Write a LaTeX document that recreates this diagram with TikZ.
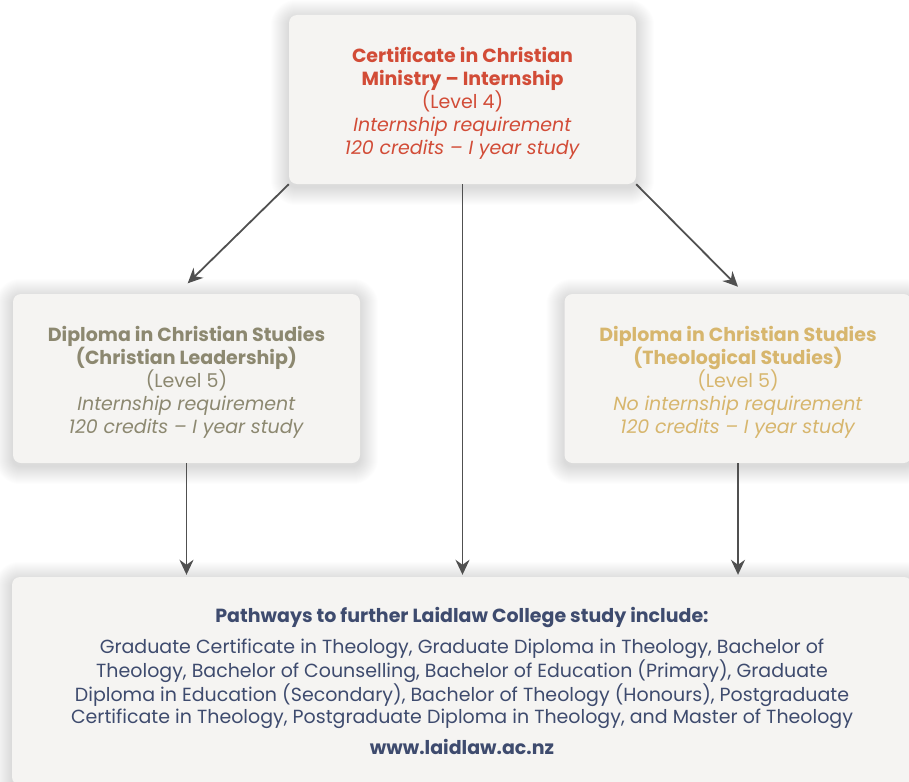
\documentclass[tikz,border=0pt]{standalone}
\usepackage{fontspec}
\setmainfont{Poppins}
\usetikzlibrary{arrows.meta,calc,backgrounds}
\definecolor{boxfill}{HTML}{F5F4F2}
\definecolor{topred}{HTML}{D24C37}
\definecolor{leftgray}{HTML}{8C8870}
\definecolor{rightgold}{HTML}{D7B66D}
\definecolor{navy}{HTML}{3E4B6E}
\definecolor{arrowgray}{HTML}{505050}
\newcommand{\toppad}{\rule{0pt}{22pt}}
\begin{document}
\begin{tikzpicture}[x=1pt,y=-1pt,
  card/.style={rectangle, rounded corners=8pt, fill=boxfill, minimum width=347pt, minimum height=169pt, align=center, inner sep=0pt},
  cardtext/.style={font=\fontsize{19}{23}\selectfont},
  softshadow/.style={fill=black, opacity=0.009},
  conn/.style={draw=arrowgray, line width=1.8pt, -{Stealth[length=15pt,width=14pt,inset=5pt]}}]
\useasboundingbox (0,0) rectangle (909,781);

\node[card, cardtext, text=topred] (top) at (462.5,99.5)
  {\toppad\textbf{Certificate in Christian}\\ \textbf{Ministry – Internship}\\ (Level 4)\\ \textit{Internship requirement}\\ \textit{120 credits – I year study}};
\node[card, cardtext, text=leftgray] (left) at (186.5,378.5)
  {\toppad\textbf{Diploma in Christian Studies}\\ \textbf{(Christian Leadership)}\\ (Level 5)\\ \textit{Internship requirement}\\ \textit{120 credits – I year study}};
\node[card, cardtext, text=rightgold] (right) at (738,378.5)
  {\toppad\textbf{Diploma in Christian Studies}\\ \textbf{(Theological Studies)}\\ (Level 5)\\ \textit{No internship requirement}\\ \textit{120 credits – I year study}};
\node[card, minimum width=900pt, minimum height=208pt, text=navy, font=\fontsize{19}{22.5}\selectfont] (bottom) at (462,681)
  {\textbf{Pathways to further Laidlaw College study include:}\\[8pt]
   Graduate Certificate in Theology, Graduate Diploma in Theology, Bachelor of\\
   Theology, Bachelor of Counselling, Bachelor of Education (Primary), Graduate\\
   Diploma in Education (Secondary), Bachelor of Theology (Honours), Postgraduate\\
   Certificate in Theology, Postgraduate Diploma in Theology, and Master of Theology\\[8pt]
   \textbf{www.laidlaw.ac.nz}};

\begin{scope}[on background layer]
  \fill[white] (0,0) rectangle (909,781);
  \foreach \n in {top,left,right,bottom}{
    \foreach \i in {1,...,18}{
      \fill[softshadow, rounded corners={8pt+\i pt}]
        ($(\n.south west)+(-\i,\i+3)$) rectangle ($(\n.north east)+(\i,-\i+3)$);
    }
  }
\end{scope}

\draw[conn, shorten >=15pt] (top.south west) -- ($(left.north)+(-9.5,0)$);
\draw[conn, shorten >=10pt] (top.south east) -- ($(right.north)+(7,0)$);
\draw[conn, shorten >=2pt] (top.south) -- (top.south |- bottom.north);
\draw[conn, shorten >=2pt] (left.south) -- (left.south |- bottom.north);
\draw[conn, shorten >=2pt] (right.south) -- (right.south |- bottom.north);
\end{tikzpicture}
\end{document}
